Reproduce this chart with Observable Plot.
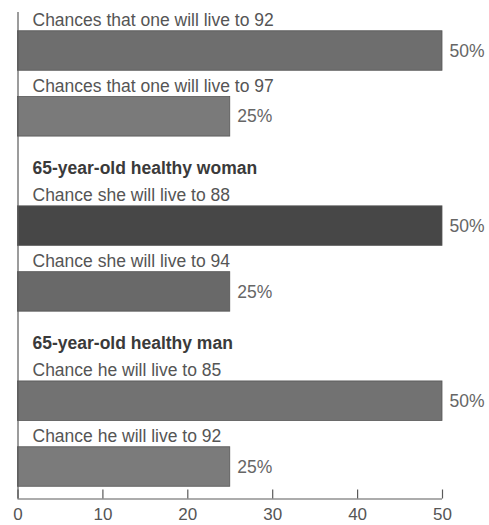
<!DOCTYPE html>
<html>
<head>
<meta charset="utf-8">
<script src="https://cdn.jsdelivr.net/npm/d3@7"></script>
<script src="https://cdn.jsdelivr.net/npm/@observablehq/plot@0.6"></script>
<style>
  body { margin: 0; background: #fff; }
  #chart svg { display: block; }
</style>
</head>
<body>
<div id="chart"></div>
<script>
// Bar captions, top to bottom
const labels = [
  "Chances that one will live to 92",
  "Chances that one will live to 97",
  "Chance she will live to 88",
  "Chance she will live to 94",
  "Chance he will live to 85",
  "Chance he will live to 92"
];
// Probability (%) for each bar
const values = [50, 25, 50, 25, 50, 25];
// Which group each bar belongs to
const groupIndex = [0, 0, 1, 1, 2, 2];
// Group headings (the first group has none)
const groupTitles = [null, "65-year-old healthy woman", "65-year-old healthy man"];
// x-axis ticks
const xTicks = [0, 10, 20, 30, 40, 50];

// Fill shade per bar
const shades = ["#6e6e6e", "#7a7a7a", "#474747", "#696969", "#727272", "#7b7b7b"];

// Layout: one unit per bar row, plus extra room above each headed group
const headingGap = 0.66;
const barHalf = 0.3;
const rows = labels.map((label, i) => ({
  label,
  value: values[i],
  group: groupIndex[i],
  slot: i + groupIndex[i] * headingGap,
  shade: shades[i]
}));
const headings = groupTitles
  .map((title, g) => ({title, slot: rows.find(r => r.group === g).slot}))
  .filter(d => d.title);

const width = 489, height = 525;
const marginTop = 12, marginBottom = 26.5, marginLeft = 17.5, marginRight = 47;
const innerHeight = height - marginTop - marginBottom;
const yDomain = [-0.585, 6.806];
const font = "'Liberation Sans', Arial, Helvetica, sans-serif";

const chart = Plot.plot({
  width, height, marginTop, marginBottom, marginLeft, marginRight,
  style: {fontFamily: font, background: "#fff"},
  x: {domain: [0, 50]},
  y: {domain: yDomain, reverse: true, axis: null},
  color: {type: "identity"},
  marks: [
    // bars
    Plot.rectX(rows, {
      x1: 0, x2: "value",
      y1: d => d.slot - barHalf, y2: d => d.slot + barHalf,
      fill: "shade", stroke: "#555", strokeWidth: 0.8
    }),
    // captions above bars
    Plot.text(rows, {
      x: 0, y: d => d.slot - 0.47, text: "label",
      textAnchor: "start", dx: 14.5, fontSize: 17.5, fill: "#555"
    }),
    // value labels at bar ends
    Plot.text(rows, {
      x: "value", y: "slot", text: d => `${d.value}%`,
      textAnchor: "start", dx: 7, fontSize: 17.5, fill: "#666"
    }),
    // group headings
    Plot.text(headings, {
      x: 0, y: d => d.slot - 0.88, text: "title",
      textAnchor: "start", dx: 14.5, fontSize: 17.5, fontWeight: "bold", fill: "#3a3a3a"
    }),
    // axes lines
    Plot.ruleX([0], {stroke: "#5a5a5a", strokeWidth: 1.2}),
    Plot.ruleY([yDomain[1]], {stroke: "#5a5a5a", strokeWidth: 1.2}),
    // inward tick marks
    Plot.tickX(xTicks, {x: d => d, insetTop: innerHeight - 9, stroke: "#5a5a5a", strokeWidth: 1.2}),
    Plot.axisX(xTicks, {
      anchor: "bottom", tickSize: 0, tickPadding: 8.5,
      fontSize: 17, fill: "#555", label: null
    })
  ]
});

document.getElementById("chart").appendChild(chart);
</script>
</body>
</html>
